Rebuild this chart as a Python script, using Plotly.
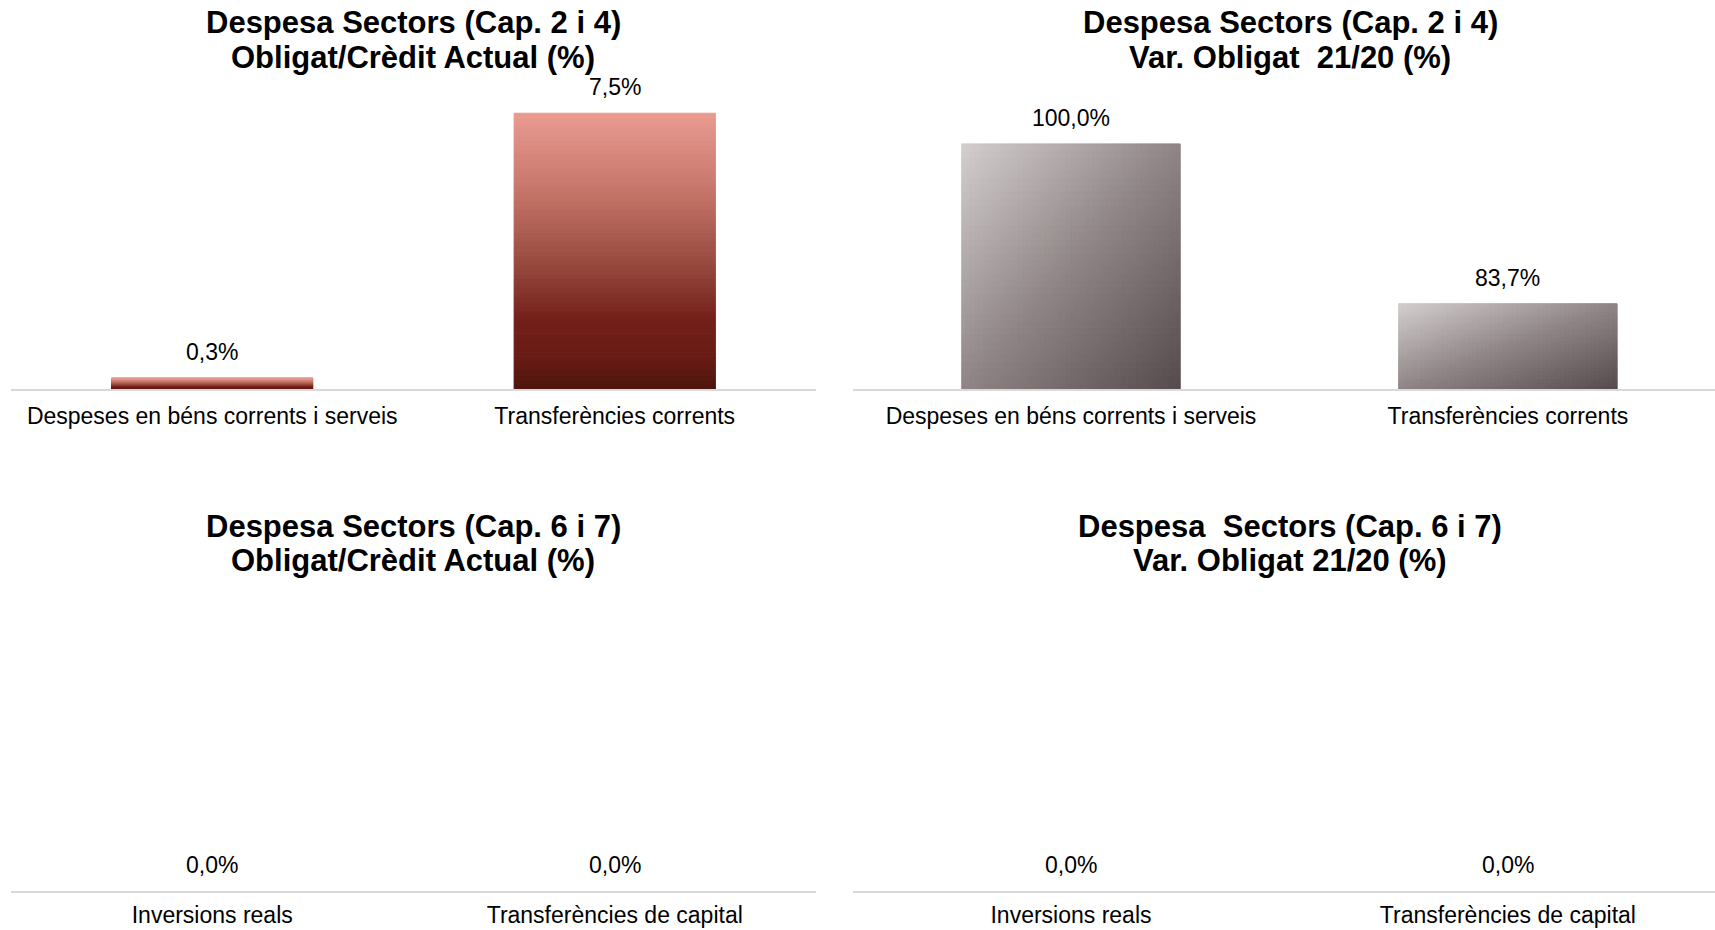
import plotly.graph_objects as go

# Categories
CATS_CORRENTS = ["Despeses en béns corrents i serveis", "Transferències corrents"]
CATS_CAPITAL = ["Inversions reals", "Transferències de capital"]

# Valors (%)
OBLIGAT_CREDIT_CORRENTS = [0.3, 7.5]
VAR_OBLIGAT_CORRENTS = [100.0, 83.7]
OBLIGAT_CREDIT_CAPITAL = [0.0, 0.0]
VAR_OBLIGAT_CAPITAL = [0.0, 0.0]

# Titols (dues linies per grafic)
TITLES = [
    ("Despesa Sectors (Cap. 2 i 4)", "Obligat/Crèdit Actual (%)"),
    ("Despesa Sectors (Cap. 2 i 4)", "Var. Obligat  21/20 (%)"),
    ("Despesa Sectors (Cap. 6 i 7)", "Obligat/Crèdit Actual (%)"),
    ("Despesa  Sectors (Cap. 6 i 7)", "Var. Obligat 21/20 (%)"),
]

FONT = "Liberation Sans, Arial, sans-serif"
RED_STOPS = [(0.0, "#ea9b91"), (0.3, "#c37266"), (0.55, "#97493d"),
             (0.75, "#731f19"), (0.88, "#691c15"), (1.0, "#4c150e")]
GREY_STOPS = [(0.0, "#d4cece"), (0.5, "#8f8586"), (1.0, "#554b4d")]
BAR_W = 0.5


def lerp_color(stops, t):
    t = min(max(t, 0.0), 1.0)
    for (t0, c0), (t1, c1) in zip(stops[:-1], stops[1:]):
        if t <= t1:
            f = (t - t0) / (t1 - t0) if t1 > t0 else 0
            a = [int(c0[k:k + 2], 16) for k in (1, 3, 5)]
            b = [int(c1[k:k + 2], 16) for k in (1, 3, 5)]
            return "rgb(%d,%d,%d)" % tuple(round(a[k] + (b[k] - a[k]) * f) for k in range(3))
    return stops[-1][1]


def gradient_bars(cats, values, floor, stops, nx, ny, diagonal, ax):
    """Une barra dividida en petits trossos per simular el degradat d'Excel."""
    xs, ys, bases, offs, widths, cols = [], [], [], [], [], []
    for cat, val in zip(cats, values):
        h = val - floor
        if h <= 0:
            continue
        for i in range(nx):
            for j in range(ny):
                u = (i + 0.5) / nx
                v = (j + 0.5) / ny  # 0 = baix
                t = (u + (1 - v)) / 2 if diagonal else 1 - v
                xs.append(cat)
                ys.append(h / ny)
                bases.append(floor + h * j / ny)
                offs.append(-BAR_W / 2 + BAR_W * i / nx)
                widths.append(BAR_W / nx)
                cols.append(lerp_color(stops, t))
    # la vora del mateix color tapa les juntes entre trossos
    return go.Bar(x=xs, y=ys, base=bases, offset=offs, width=widths,
                  marker=dict(color=cols, line=dict(width=1, color=cols)),
                  xaxis="x" + ax, yaxis="y" + ax, hoverinfo="skip", showlegend=False)


panels = [
    # (categories, valors, colors, diagonal, eix, rang y)
    (CATS_CORRENTS, OBLIGAT_CREDIT_CORRENTS, RED_STOPS, False, "", [0, 8]),
    (CATS_CORRENTS, VAR_OBLIGAT_CORRENTS, GREY_STOPS, True, "2", [75, 105]),
    (CATS_CAPITAL, OBLIGAT_CREDIT_CAPITAL, RED_STOPS, False, "3", [0, 1]),
    (CATS_CAPITAL, VAR_OBLIGAT_CAPITAL, GREY_STOPS, True, "4", [0, 1]),
]

fig = go.Figure()
annotations = []
for cats, vals, stops, diag, ax, yr in panels:
    # barra base (transparent) per fixar les categories
    fig.add_trace(go.Bar(x=cats, y=vals, width=BAR_W, marker_color="rgba(0,0,0,0)",
                         xaxis="x" + ax, yaxis="y" + ax, showlegend=False,
                         hovertemplate="%{x}: %{y:.1f}%<extra></extra>"))
    nx, ny = (50, 36) if diag else (1, 60)
    fig.add_trace(gradient_bars(cats, vals, yr[0], stops, nx, ny, diag, ax))
    for c, v in zip(cats, vals):
        annotations.append(dict(
            x=c, y=v, xref="x" + ax, yref="y" + ax, yshift=26, showarrow=False,
            text=("%.1f" % v).replace(".", ",") + "%", yanchor="middle",
            font=dict(size=23, color="#000000", family=FONT)))

# titols
title_x = [0.2411, 0.7522, 0.2411, 0.7522]
title_y = [(0.9763, 0.9387), (0.9763, 0.9387), (0.4344, 0.3968), (0.4344, 0.3968)]
for (l1, l2), x, (y1, y2) in zip(TITLES, title_x, title_y):
    for txt, y in ((l1, y1), (l2, y2)):
        annotations.append(dict(
            x=x, y=y, xref="paper", yref="paper", showarrow=False,
            xanchor="center", yanchor="middle",
            text="<b>" + txt + "</b>", font=dict(size=31, color="#000000", family=FONT)))

left_dom = [0.0064, 0.4758]
right_dom = [0.4971, 1.0]
top_dom = [0.5817, 0.898]
bot_dom = [0.0419, 0.355]

xstyle = dict(showline=True, linecolor="#d9d9d9", linewidth=2, ticks="",
              showgrid=False, zeroline=False, automargin=False,
              tickfont=dict(size=23, color="#000000", family=FONT), fixedrange=True)
ystyle = dict(visible=False, showgrid=False, zeroline=False, fixedrange=True)

fig.update_layout(
    width=1715, height=930,
    template="none",
    barmode="overlay",
    paper_bgcolor="white", plot_bgcolor="white",
    margin=dict(l=0, r=0, t=0, b=0),
    font=dict(family=FONT, color="#000000"),
    showlegend=False,
    annotations=annotations,
    xaxis=dict(domain=left_dom, anchor="y", range=[-0.5, 1.5], ticklabelstandoff=5, **xstyle),
    yaxis=dict(domain=top_dom, anchor="x", range=[0, 8], **ystyle),
    xaxis2=dict(domain=right_dom, anchor="y2", range=[-0.5, 1.474], ticklabelstandoff=5, **xstyle),
    yaxis2=dict(domain=top_dom, anchor="x2", range=[75, 105], **ystyle),
    xaxis3=dict(domain=left_dom, anchor="y3", range=[-0.5, 1.5], ticklabelstandoff=2, **xstyle),
    yaxis3=dict(domain=bot_dom, anchor="x3", range=[0, 1], **ystyle),
    xaxis4=dict(domain=right_dom, anchor="y4", range=[-0.5, 1.474], ticklabelstandoff=2, **xstyle),
    yaxis4=dict(domain=bot_dom, anchor="x4", range=[0, 1], **ystyle),
)

# pas de marge al body: la figura ocupa tota la finestra
fig.write_html("out.html", config={"displayModeBar": False},
               post_script="document.body.style.margin='0';")
